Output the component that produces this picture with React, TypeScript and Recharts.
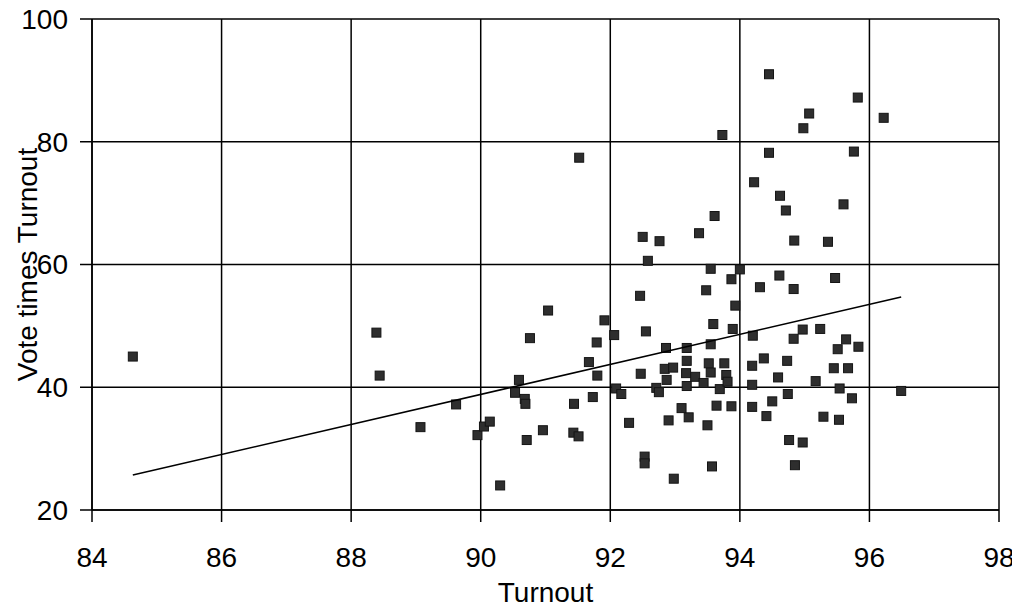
import { ScatterChart, Scatter, XAxis, YAxis, CartesianGrid, Label } from 'recharts'

// turnout (%) for each observation
const TURNOUT = [
  84.63, 88.39, 88.44, 89.07, 89.62, 89.95, 90.05, 90.14, 90.3, 90.53,
  90.59, 90.68, 90.69, 90.71, 90.76, 90.96, 91.04, 91.43, 91.44, 91.51,
  91.52, 91.67, 91.73, 91.79, 91.8, 91.91, 92.06, 92.09, 92.17, 92.29,
  92.46, 92.47, 92.5, 92.53, 92.53, 92.55, 92.58, 92.71, 92.75, 92.76,
  92.84, 92.86, 92.87, 92.9, 92.97, 92.98, 93.1, 93.17, 93.18, 93.18,
  93.18, 93.21, 93.31, 93.37, 93.44, 93.48, 93.5, 93.52, 93.55, 93.55,
  93.55, 93.57, 93.59, 93.61, 93.64, 93.69, 93.73, 93.76, 93.79, 93.81,
  93.87, 93.87, 93.89, 93.93, 94.0, 94.19, 94.19, 94.19, 94.2, 94.22,
  94.31, 94.37, 94.41, 94.45, 94.45, 94.5, 94.59, 94.61, 94.62, 94.71,
  94.73, 94.74, 94.76, 94.83, 94.83, 94.84, 94.85, 94.97, 94.97, 94.98,
  95.07, 95.17, 95.24, 95.29, 95.36, 95.45, 95.47, 95.51, 95.53, 95.54,
  95.6, 95.64, 95.67, 95.73, 95.76, 95.82, 95.83, 96.22, 96.49,
]

// vote times turnout, same order
const VOTE_X_TURNOUT = [
  45.0, 48.9, 41.9, 33.5, 37.2, 32.2, 33.6, 34.4, 24.0, 39.1,
  41.2, 38.1, 37.3, 31.4, 48.0, 33.0, 52.5, 32.6, 37.3, 32.0,
  77.4, 44.1, 38.4, 47.3, 41.9, 50.9, 48.5, 39.8, 38.9, 34.2,
  54.9, 42.2, 64.5, 28.7, 27.6, 49.1, 60.6, 39.9, 39.2, 63.8,
  43.0, 46.4, 41.2, 34.6, 43.2, 25.1, 36.6, 42.3, 46.4, 44.3,
  40.2, 35.1, 41.7, 65.1, 40.7, 55.8, 33.8, 43.9, 59.3, 47.0,
  42.4, 27.1, 50.3, 67.9, 37.0, 39.7, 81.1, 43.9, 42.0, 40.9,
  57.6, 36.9, 49.5, 53.3, 59.2, 43.5, 40.4, 36.8, 48.4, 73.4,
  56.3, 44.7, 35.3, 91.0, 78.2, 37.7, 41.6, 58.2, 71.2, 68.8,
  44.3, 38.9, 31.4, 56.0, 47.9, 63.9, 27.3, 49.4, 31.0, 82.2,
  84.6, 41.0, 49.5, 35.2, 63.7, 43.1, 57.8, 46.2, 34.7, 39.8,
  69.8, 47.8, 43.1, 38.2, 78.4, 87.2, 46.6, 83.9, 39.4,
]

// fitted line endpoints
const TREND_X = [84.63, 96.49]
const TREND_Y = [25.7, 54.7]

const X_TICKS = [84, 86, 88, 90, 92, 94, 96, 98]
const Y_TICKS = [20, 40, 60, 80, 100]

const points = TURNOUT.map((x, i) => ({ x, y: VOTE_X_TURNOUT[i] }))
const trend = TREND_X.map((x, i) => ({ x, y: TREND_Y[i] }))

const FONT = '"Liberation Sans", Arial, Helvetica, sans-serif'
const tickStyle = { fill: '#000', fontSize: 28, fontFamily: FONT }

const Square = (props: any) => {
  const { cx, cy } = props
  if (cx == null || cy == null) return <g />
  return <rect x={cx - 4.5} y={cy - 4.5} width={9} height={9} fill="#2e2e2e" stroke="#141414" strokeWidth={1} />
}

export default function App() {
  return (
    <div style={{ background: '#fff', margin: '-8px 0 0 -8px', width: 1020, height: 613 }}>
      <ScatterChart width={1020} height={613} margin={{ top: 19, right: 21, bottom: 0, left: 0 }}>
        <CartesianGrid stroke="#000" strokeWidth={1.5} />
        <XAxis
          type="number"
          dataKey="x"
          domain={[84, 98]}
          ticks={X_TICKS}
          interval={0}
          allowDataOverflow
          height={103}
          tick={tickStyle}
          tickSize={12}
          tickMargin={25}
          stroke="#000"
          strokeWidth={1.5}
        >
          <Label value="Turnout" position="insideBottom" offset={11} fill="#000" fontSize={28} fontFamily={FONT} />
        </XAxis>
        <YAxis
          type="number"
          dataKey="y"
          domain={[20, 100]}
          ticks={Y_TICKS}
          interval={0}
          allowDataOverflow
          width={92}
          tick={tickStyle}
          tickSize={12}
          tickMargin={12}
          stroke="#000"
          strokeWidth={1.5}
        >
          <Label
            content={({ viewBox }: any) => {
              const x = viewBox.x + 37
              const y = viewBox.y + viewBox.height / 2
              return (
                <text x={x} y={y} transform={`rotate(-90, ${x}, ${y})`} textAnchor="middle" fill="#000" fontSize={28} fontFamily={FONT}>
                  Vote times Turnout
                </text>
              )
            }}
          />
        </YAxis>
        <Scatter data={points} shape={Square} isAnimationActive={false} legendType="none" />
        <Scatter
          data={trend}
          line={{ stroke: '#000', strokeWidth: 1.5 }}
          lineType="joint"
          shape={() => <g />}
          isAnimationActive={false}
          legendType="none"
        />
      </ScatterChart>
    </div>
  )
}
